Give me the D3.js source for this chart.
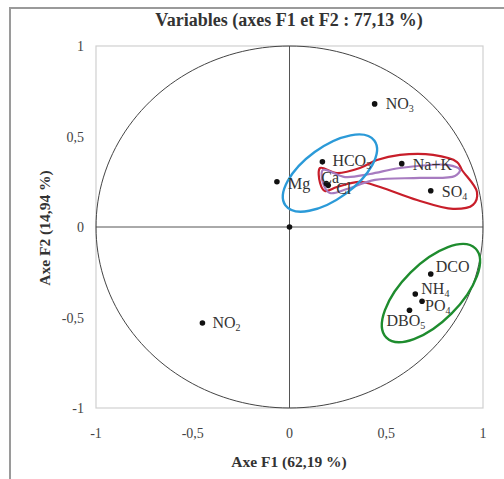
<!DOCTYPE html>
<html><head><meta charset="utf-8">
<script src="https://cdn.jsdelivr.net/npm/d3@7"></script>
<style>body{margin:0;background:#fff}svg{display:block}text{font-family:"Liberation Serif","DejaVu Serif",serif}</style>
</head><body><svg id="c" width="504" height="479"></svg>
<script>
// Data
const variables = ["NO3","HCO3","Na+K","Ca","Cl","SO4","Mg","","NO2","DCO","NH4","PO4","DBO5"];
const labelBase = ["NO","HCO","Na+K","Ca","Cl","SO","Mg","","NO","DCO","NH","PO","DBO"];
const labelSub  = ["3","3","","","","4","","","2","","4","4","5"];
const f1 = [0.44, 0.17, 0.58, 0.19, 0.20, 0.73, -0.065, 0.0, -0.45, 0.73, 0.65, 0.685, 0.62];
const f2 = [0.68, 0.36, 0.35, 0.24, 0.23, 0.20, 0.25, 0.0, -0.53, -0.26, -0.37, -0.41, -0.46];
const ticks = [-1, -0.5, 0, 0.5, 1];
// label offsets (px) for layout
const labelDx = [11, 10, 11, -5, 8, 11, 11, 0, 10, 5, 6, 3, -23];
const labelDy = [5, 4, 6, -1, 9, 6, 7, 0, 5, -2, 0, 10, 16];
// group outlines (data units)
const redX = [0.158,0.245,0.364,0.452,0.571,0.742,0.866,0.891,0.969,0.948,0.845,0.659,0.468,0.364,0.245,0.183,0.158];
const redY = [0.326,0.298,0.326,0.370,0.398,0.398,0.359,0.315,0.193,0.122,0.100,0.149,0.221,0.249,0.221,0.199,0.243];
const purX = [0.173,0.287,0.416,0.571,0.814,0.881,0.855,0.674,0.442,0.297,0.209,0.173];
const purY = [0.315,0.276,0.293,0.326,0.343,0.315,0.282,0.271,0.260,0.210,0.188,0.243];
const ellipseCx = [0.209, 0.731];
const ellipseCy = [0.298, -0.365];
const ellipseColor = ["#2b9ad8", "#1e8c2e"];

const svg = d3.select("#c");
const x = d3.scaleLinear().domain([-1,1]).range([96,483]);
const y = d3.scaleLinear().domain([-1,1]).range([408,46]);
const fmt = d => String(d).replace(".", ",");

// outer frame
svg.append("path").attr("d","M10,479 V8 H504").attr("fill","none").attr("stroke","#9a9a9a").attr("stroke-width",2);

// plot frame
svg.append("rect").attr("x",x(-1)).attr("y",y(1)).attr("width",x(1)-x(-1)).attr("height",y(-1)-y(1))
  .attr("fill","none").attr("stroke","#d0d0d0").attr("stroke-width",1.2);

// axes through origin
svg.append("line").attr("x1",x(0)).attr("x2",x(0)).attr("y1",y(1)).attr("y2",y(-1)).attr("stroke","#555").attr("stroke-width",1);
svg.append("line").attr("x1",x(-1)).attr("x2",x(1)).attr("y1",y(0)).attr("y2",y(0)).attr("stroke","#555").attr("stroke-width",1);

// correlation circle
const circ = d3.range(0, 361, 2).map(a => [x(Math.cos(a*Math.PI/180)), y(Math.sin(a*Math.PI/180))]);
svg.append("path").attr("d", d3.line()(circ)+"Z").attr("fill","none").attr("stroke","#444").attr("stroke-width",1);

// tick labels
svg.append("g").selectAll("text").data(ticks).join("text")
  .attr("x", d => x(d)).attr("y", 438).attr("text-anchor","middle").attr("font-size",14).attr("fill","#444").text(fmt);
svg.append("g").selectAll("text").data(ticks).join("text")
  .attr("x", 84).attr("y", d => y(d)+5).attr("text-anchor","end").attr("font-size",14).attr("fill","#444").text(fmt);

// group shapes
const line = d3.line().curve(d3.curveCatmullRomClosed.alpha(0.5));
svg.append("path").attr("d", line(redX.map((v,i)=>[x(v), y(redY[i])])))
  .attr("fill","none").attr("stroke","#c81e2a").attr("stroke-width",2.2);
svg.append("path").attr("d", line(purX.map((v,i)=>[x(v), y(purY[i])])))
  .attr("fill","none").attr("stroke","#a77bc0").attr("stroke-width",2.2);
const ellA = [55, 63], ellB = [26, 29], ellRot = [-36, -45];
ellipseCx.forEach((cx,i) => {
  svg.append("ellipse").attr("cx",0).attr("cy",0).attr("rx",ellA[i]).attr("ry",ellB[i])
    .attr("transform",`translate(${x(cx)},${y(ellipseCy[i])}) rotate(${ellRot[i]})`)
    .attr("fill","none").attr("stroke",ellipseColor[i]).attr("stroke-width",2.4);
});

// points
svg.append("g").selectAll("circle").data(f1).join("circle")
  .attr("cx", d => x(d)).attr("cy", (d,i) => y(f2[i])).attr("r", 2.8).attr("fill","#111");

// labels
const lab = svg.append("g").selectAll("text").data(variables).join("text")
  .attr("x",(d,i)=>x(f1[i])+labelDx[i]).attr("y",(d,i)=>y(f2[i])+labelDy[i])
  .attr("font-size",16).attr("fill","#333");
lab.append("tspan").text((d,i)=>labelBase[i]);
lab.append("tspan").attr("font-size",10).attr("dy",3).text((d,i)=>labelSub[i]);

// titles
svg.append("text").attr("x",289).attr("y",26).attr("text-anchor","middle").attr("font-size",18)
  .attr("font-weight","bold").attr("fill","#333").text("Variables (axes F1 et F2 : 77,13 %)");
svg.append("text").attr("x",289).attr("y",467).attr("text-anchor","middle").attr("font-size",15.5)
  .attr("font-weight","bold").attr("fill","#333").text("Axe F1 (62,19 %)");
svg.append("text").attr("transform","translate(50,228) rotate(-90)").attr("text-anchor","middle").attr("font-size",15.5)
  .attr("font-weight","bold").attr("fill","#333").text("Axe F2 (14,94 %)");
</script></body></html>
